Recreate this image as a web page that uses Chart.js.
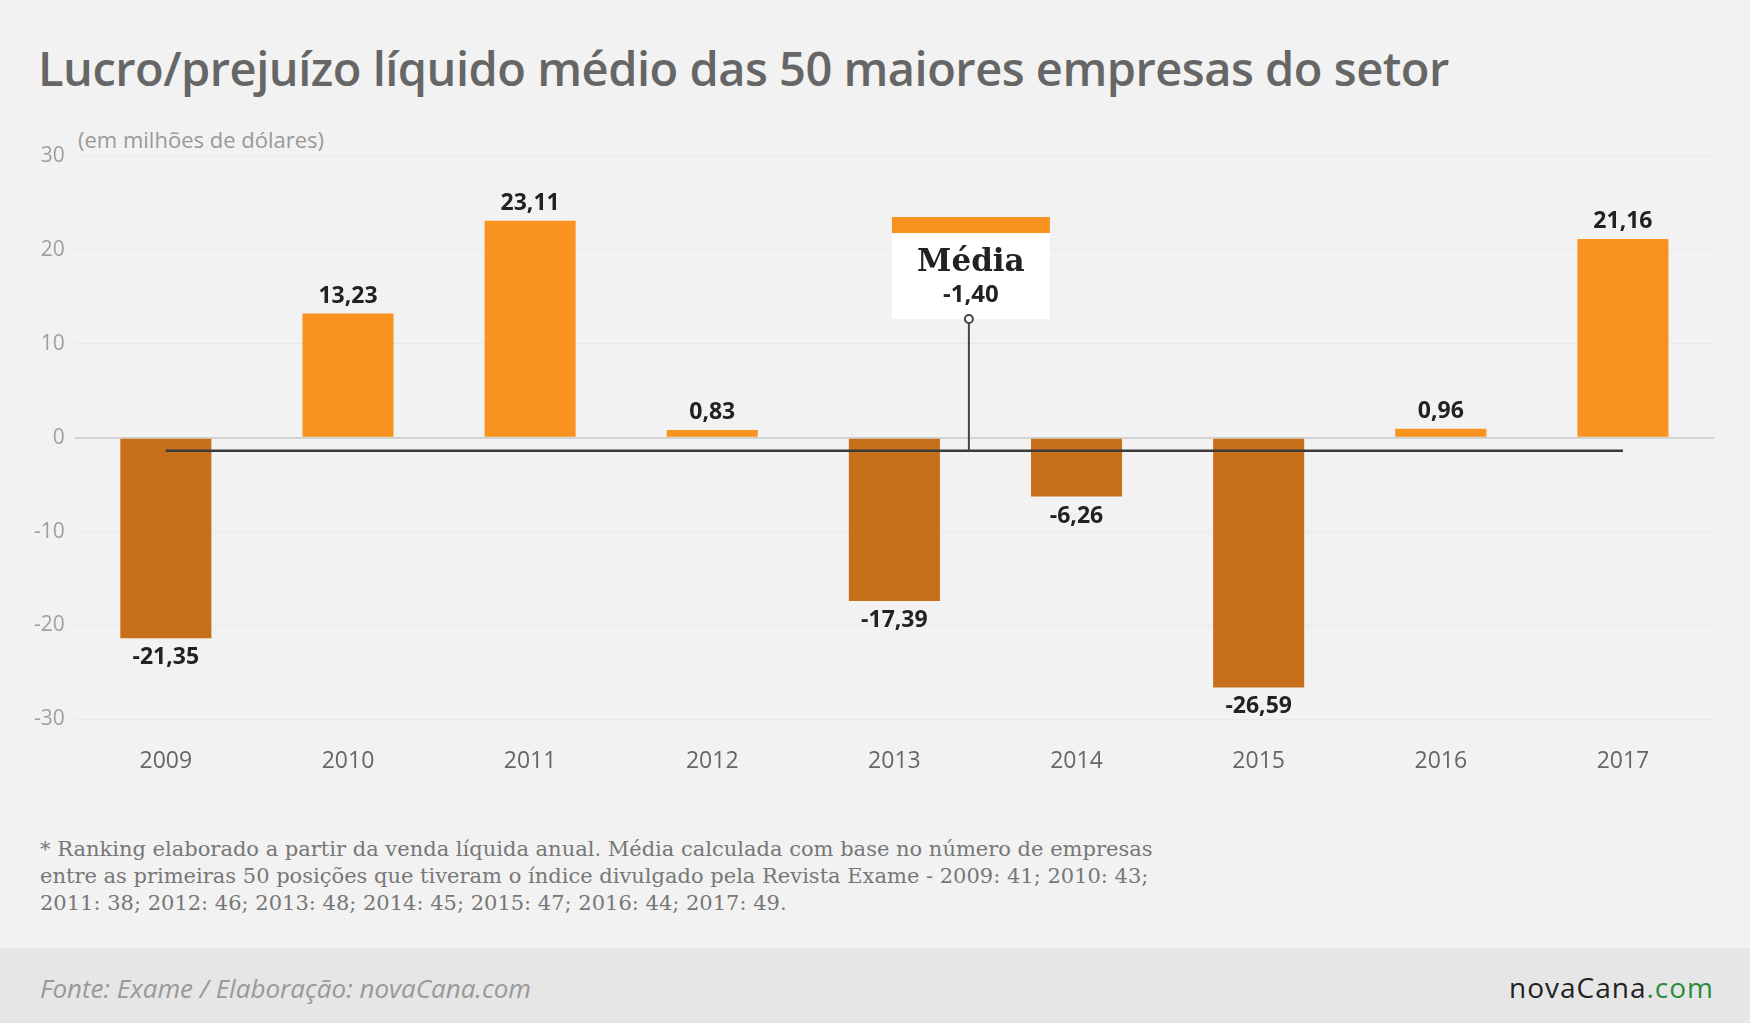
<!DOCTYPE html>
<html>
<head>
<meta charset="utf-8">
<script src="https://cdn.jsdelivr.net/npm/chart.js@4"></script>
<style>
  body { margin: 0; background: #F2F2F2; font-family: "Open Sans", sans-serif; }
  #page { position: relative; width: 1750px; height: 1023px; overflow: hidden; background: #F2F2F2; }
  #title { position: absolute; left: 38px; top: 36px; font-size: 47px; font-weight: 600; color: #666; letter-spacing: -0.5px; }
  #unit { position: absolute; left: 78px; top: 124px; font-size: 22px; color: #999; }
  #chartBox { position: absolute; left: 0; top: 120px; width: 1750px; height: 690px; }
  #note { position: absolute; left: 40px; top: 836px; font-family: "DejaVu Serif", serif; font-size: 21px; line-height: 27px; color: #777; }
  #footer { position: absolute; left: 0; top: 948px; width: 1750px; height: 75px; background: #E6E6E6; }
  #fonte { position: absolute; left: 40px; top: 22px; font-size: 26px; font-style: italic; color: #999; }
  #logo { position: absolute; right: 36px; top: 20px; font-size: 28px; color: #222; letter-spacing: 1px; }
  #logo span { color: #2E8B3E; }
</style>
</head>
<body>
<div id="page">
  <div id="title">Lucro/prejuízo líquido médio das 50 maiores empresas do setor</div>
  <div id="unit">(em milhões de dólares)</div>
  <div id="chartBox"><canvas id="myChart" width="1750" height="690"></canvas></div>
  <div id="note">* Ranking elaborado a partir da venda líquida anual. Média calculada com base no número de empresas<br>entre as primeiras 50 posições que tiveram o índice divulgado pela Revista Exame - 2009: 41; 2010: 43;<br>2011: 38; 2012: 46; 2013: 48; 2014: 45; 2015: 47; 2016: 44; 2017: 49.</div>
  <div id="footer">
    <div id="fonte">Fonte: Exame / Elaboração: novaCana.com</div>
    <div id="logo">novaCana<span>.com</span></div>
  </div>
</div>
<script>
// Chart data
const years = ['2009', '2010', '2011', '2012', '2013', '2014', '2015', '2016', '2017'];
const lucro = [-21.35, 13.23, 23.11, 0.83, -17.39, -6.26, -26.59, 0.96, 21.16];
const media = -1.40;
const yTicks = [30, 20, 10, 0, -10, -20, -30];

const posColor = '#F7931E';
const negColor = '#C76F1A';

function fmt(v) {
    return v.toFixed(2).replace('.', ',');
}

// draws value labels and the "Média" callout
const labelsPlugin = {
    id: 'labelsPlugin',
    afterDatasetsDraw(chart) {
        const ctx = chart.ctx;
        const meta = chart.getDatasetMeta(0);
        ctx.save();
        ctx.font = 'bold 23px "Open Sans"';
        ctx.fillStyle = '#222';
        ctx.textAlign = 'center';
        meta.data.forEach((bar, i) => {
            const v = lucro[i];
            if (v >= 0) {
                ctx.textBaseline = 'bottom';
                ctx.fillText(fmt(v), bar.x, bar.y - 6);
            } else {
                ctx.textBaseline = 'top';
                ctx.fillText(fmt(v), bar.x, bar.y + 8);
            }
        });

        // callout
        const xs = chart.scales.x, ys = chart.scales.y;
        const cx = xs.getPixelForValue(4) + 0.42 * (xs.getPixelForValue(5) - xs.getPixelForValue(4));
        const lineY = ys.getPixelForValue(media);
        const top = ys.getPixelForValue(23.5);
        const bw = 158, bh = 102;
        ctx.fillStyle = '#fff';
        ctx.fillRect(cx - bw / 2, top, bw, bh);
        ctx.fillStyle = posColor;
        ctx.fillRect(cx - bw / 2, top, bw, 16);
        ctx.strokeStyle = '#444';
        ctx.lineWidth = 2;
        ctx.beginPath();
        ctx.moveTo(cx - 2, top + bh);
        ctx.lineTo(cx - 2, lineY);
        ctx.stroke();
        ctx.beginPath();
        ctx.fillStyle = '#fff';
        ctx.arc(cx - 2, top + bh, 4, 0, Math.PI * 2);
        ctx.fill();
        ctx.stroke();
        ctx.fillStyle = '#222';
        ctx.textBaseline = 'alphabetic';
        ctx.font = 'bold 31px "DejaVu Serif"';
        ctx.fillText('Média', cx, top + 54);
        ctx.font = 'bold 24px "Open Sans"';
        ctx.fillText(fmt(media), cx, top + 85);
        ctx.restore();
    }
};

const ctx = document.getElementById('myChart').getContext('2d');
new Chart(ctx, {
    type: 'bar',
    data: {
        labels: years,
        datasets: [{
            data: lucro,
            backgroundColor: lucro.map(v => v >= 0 ? posColor : negColor),
            barPercentage: 0.5,
            categoryPercentage: 1,
            order: 2
        }, {
            type: 'line',
            data: years.map(() => media),
            borderColor: '#3A3A3A',
            borderWidth: 2.5,
            pointRadius: 0,
            order: 1
        }]
    },
    options: {
        responsive: false,
        animation: false,
        devicePixelRatio: 1,
        layout: { padding: { left: 24, right: 36, top: 36, bottom: 15 } },
        plugins: { legend: { display: false }, tooltip: { enabled: false } },
        scales: {
            x: {
                grid: { display: false },
                border: { display: false },
                ticks: { color: '#666', font: { size: 23, family: 'Open Sans' }, padding: 20 }
            },
            y: {
                min: -30,
                max: 30,
                afterBuildTicks: axis => { axis.ticks = yTicks.map(v => ({ value: v })); },
                grid: {
                    color: c => c.tick && c.tick.value === 0 ? '#D2D2D2' : '#E8E8E8',
                    lineWidth: c => c.tick && c.tick.value === 0 ? 2 : 1,
                    drawTicks: false
                },
                border: { display: false },
                ticks: { color: '#A0A0A0', font: { size: 21, family: 'Open Sans' }, padding: 10 }
            }
        }
    },
    plugins: [labelsPlugin]
});
</script>
</body>
</html>
